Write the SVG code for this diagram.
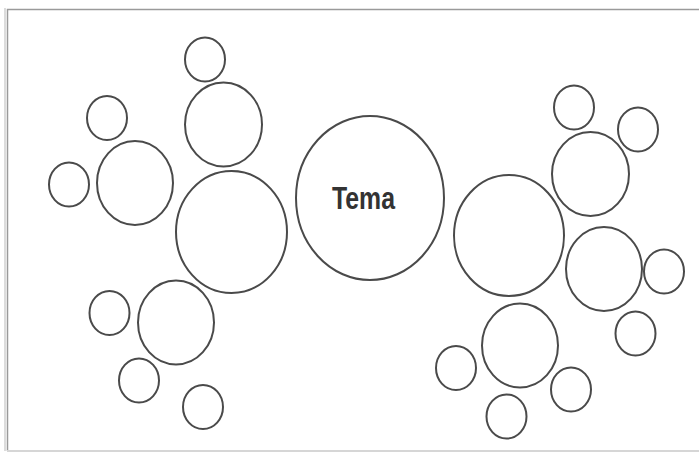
<svg xmlns="http://www.w3.org/2000/svg" width="699" height="453" viewBox="0 0 699 453">
<style>
.n ellipse{fill:none;stroke:#4a4a4a;stroke-width:2}
.lbl{font-family:"Liberation Sans Narrow","Liberation Sans",Arial,sans-serif;font-weight:bold;font-size:32px;fill:#333}
</style>
<rect x="0" y="0" width="699" height="453" fill="#fff"/>
<path d="M7.5 451 V9.5 H699" fill="none" stroke="#9a9a9a" stroke-width="1.5"/>
<path d="M5 451 V8" fill="none" stroke="#dcdcdc" stroke-width="2"/>
<path d="M7 451 H699" fill="none" stroke="#d6d6d6" stroke-width="2"/>
<g id="connectors"></g>
<g id="tema" class="n"><ellipse cx="370" cy="198" rx="74" ry="82"/><text class="lbl" x="363.5" y="209" text-anchor="middle" textLength="63" lengthAdjust="spacingAndGlyphs">Tema</text></g>
<g id="l-big" class="n"><ellipse cx="231.5" cy="232" rx="55.5" ry="61"/></g>
<g id="l-top-med" class="n"><ellipse cx="223.5" cy="124.5" rx="38.5" ry="42"/></g>
<g id="l-top-small" class="n"><ellipse cx="205" cy="59.5" rx="20" ry="22"/></g>
<g id="l-mid-med" class="n"><ellipse cx="135" cy="183" rx="38" ry="42"/></g>
<g id="l-mid-small1" class="n"><ellipse cx="107" cy="118" rx="20" ry="22"/></g>
<g id="l-mid-small2" class="n"><ellipse cx="69" cy="184.5" rx="20" ry="22"/></g>
<g id="l-bot-med" class="n"><ellipse cx="176" cy="322.5" rx="38" ry="42"/></g>
<g id="l-bot-small1" class="n"><ellipse cx="109.5" cy="313" rx="20" ry="22"/></g>
<g id="l-bot-small2" class="n"><ellipse cx="139" cy="380.5" rx="20" ry="22"/></g>
<g id="l-bot-small3" class="n"><ellipse cx="203" cy="407" rx="20" ry="22"/></g>
<g id="r-big" class="n"><ellipse cx="509" cy="235.5" rx="55" ry="60.5"/></g>
<g id="r-top-med" class="n"><ellipse cx="590.5" cy="174" rx="38.5" ry="42"/></g>
<g id="r-top-small1" class="n"><ellipse cx="574" cy="107.5" rx="20" ry="22"/></g>
<g id="r-top-small2" class="n"><ellipse cx="638" cy="129.5" rx="20" ry="22"/></g>
<g id="r-mid-med" class="n"><ellipse cx="604" cy="269" rx="38" ry="42"/></g>
<g id="r-mid-small1" class="n"><ellipse cx="664" cy="271.5" rx="20" ry="22"/></g>
<g id="r-mid-small2" class="n"><ellipse cx="635.5" cy="333.5" rx="20" ry="22"/></g>
<g id="r-bot-med" class="n"><ellipse cx="520" cy="345.5" rx="38" ry="42"/></g>
<g id="r-bot-small1" class="n"><ellipse cx="456" cy="368" rx="20" ry="22"/></g>
<g id="r-bot-small2" class="n"><ellipse cx="571" cy="389.5" rx="20" ry="22"/></g>
<g id="r-bot-small3" class="n"><ellipse cx="506.5" cy="416.5" rx="20" ry="22"/></g>
</svg>
